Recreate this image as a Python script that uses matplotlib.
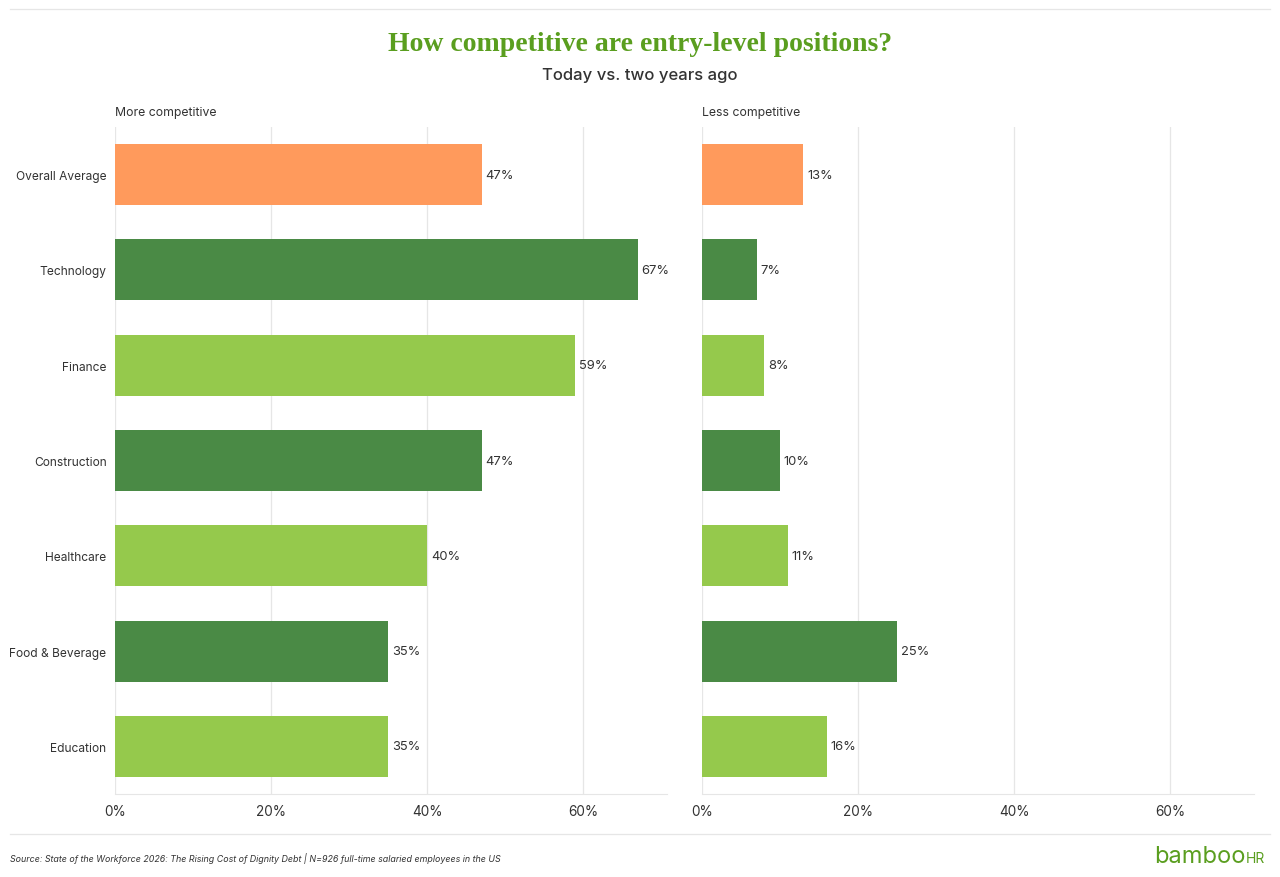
import matplotlib.pyplot as plt
from matplotlib.lines import Line2D

categories = ["Overall Average", "Technology", "Finance", "Construction",
              "Healthcare", "Food & Beverage", "Education"]
more_comp = [47, 67, 59, 47, 40, 35, 35]
less_comp = [13, 7, 8, 10, 11, 25, 16]
bar_colors = ["#FF9A5C", "#4A8A45", "#95C94C", "#4A8A45",
              "#95C94C", "#4A8A45", "#95C94C"]
ticks = [0, 20, 40, 60]
tick_labels = ["0%", "20%", "40%", "60%"]

plt.rcParams['font.family'] = ['Inter', 'DejaVu Sans']

fig = plt.figure(figsize=(12.8, 8.78), dpi=100)
ax1 = fig.add_axes([0.0898, 0.0945, 0.431, 0.7597])
ax2 = fig.add_axes([0.5484, 0.0945, 0.431, 0.7597])

for ax, vals, label in [(ax1, more_comp, "More competitive"),
                        (ax2, less_comp, "Less competitive")]:
    y = range(len(categories))
    ax.barh(y, vals, height=0.64, color=bar_colors, zorder=2)
    for i, v in enumerate(vals):
        ax.text(v + 0.5, i, f"{v}%", va="center", ha="left",
                fontsize=9.3, color="#333333")
    ax.set_xlim(0, 70.7)
    ax.set_ylim(6.5, -0.5)
    ax.set_xticks(ticks)
    ax.set_xticklabels(tick_labels, fontsize=9.8, color="#333333")
    ax.grid(axis="x", color="#e6e6e6", linewidth=0.9, zorder=0)
    for s in ["top", "right", "left"]:
        ax.spines[s].set_visible(False)
    ax.spines["bottom"].set_color("#e6e6e6")
    ax.tick_params(axis="x", length=0, pad=7)
    ax.tick_params(axis="y", length=0, pad=6)
    ax.text(0, 1.013, label, transform=ax.transAxes, fontsize=8.8,
            color="#333333", ha="left", va="bottom")

ax1.set_yticks(range(len(categories)))
ax1.set_yticklabels(categories, fontsize=8.6, color="#333333")
ax2.set_yticks([])

fig.text(0.5, 0.949, "How competitive are entry-level positions?",
         ha="center", va="center", fontsize=20, fontweight="bold",
         family="Liberation Serif", color="#5A9E1F")
fig.text(0.5, 0.914, "Today vs. two years ago", ha="center", va="center",
         fontsize=12, fontweight="medium", color="#333333")

fig.add_artist(Line2D([0.008, 0.992], [0.989, 0.989], color="#e6e6e6",
                      linewidth=0.9, transform=fig.transFigure))
fig.add_artist(Line2D([0.008, 0.992], [0.049, 0.049], color="#e6e6e6",
                      linewidth=0.9, transform=fig.transFigure))

fig.text(0.008, 0.022, "Source: State of the Workforce 2026: The Rising Cost of Dignity Debt | N=926 full-time salaried employees in the US",
         ha="left", va="center", fontsize=6.4, style="italic", color="#333333")
fig.text(0.902, 0.024, "bamboo", ha="left", va="center", fontsize=17,
         color="#5A9E1F")
fig.text(0.973, 0.022, "HR", ha="left", va="center", fontsize=10,
         color="#5A9E1F")

fig.savefig("out.png", dpi=100)
